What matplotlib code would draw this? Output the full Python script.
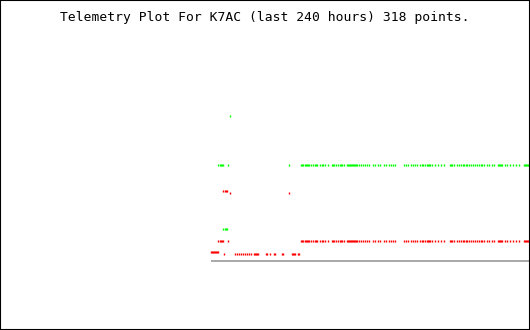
import numpy as np
import matplotlib
matplotlib.use("Agg")
import matplotlib.pyplot as plt
from matplotlib.patches import Rectangle

# times in hours (negative = hours ago)
t_main = [-172.5, -171.75, -171, -169.5, -168.75, -168, -167.25, -166.5, -165, -163.5,
          -162, -161.25, -160.5, -158.25, -156.75, -156, -154.5, -152.25, -149.25, -148.5,
          -147.75, -146.25, -144.75, -143.25, -142.5, -141.75, -140.25, -138, -137.25, -136.5,
          -135.75, -135, -134.25, -133.5, -132.75, -132, -131.25, -130.5, -129, -127.5,
          -126, -124.5, -123, -121.5, -118.5, -117, -114.75, -113.25, -110.25, -108.75,
          -106.5, -105, -103.5, -102, -95.25, -93.75, -92.25, -90, -88.5, -87,
          -85.5, -83.25, -81.75, -81, -79.5, -78, -77.25, -76.5, -75.75, -74.25,
          -72, -69.75, -67.5, -65.25, -60.75, -60, -59.25, -57.75, -55.5, -54,
          -52.5, -51, -50.25, -48.75, -48, -46.5, -45, -43.5, -42, -40.5,
          -39, -37.5, -36.75, -35.25, -33, -31.5, -29.25, -27.75, -24.75, -24,
          -23.25, -22.5, -21.75, -19.5, -18, -15.75, -13.5, -11.25, -9, -5.25,
          -4.5, -3.75, -3, -2.25]
t_early_a = [-234.75, -233.25, -232.5, -231.75, -231, -227.25, -181.5]
t_early_b = [-231, -229.5, -228.75, -228]
t_spike = [-225.75]
t_red_mid = [-225.75, -181.5]
t_red_low_first = [-240, -239.25, -238.5, -237.75, -237, -236.25, -235.5, -234.75]
t_red_low = [-230.25, -222, -220.5, -219, -217.5, -216, -214.5, -213, -211.5, -210,
             -207.75, -207, -206.25, -205.5, -204.75, -198.75, -198, -195.75, -192.75, -192,
             -186.75, -186, -179.25, -178.5, -177.75, -177, -174.75, -174]

# channel levels
green_hi = 9.6
green_lo = 3.2
green_spike = 14.5
red_hi = 7.0
red_mid = 6.8
red_main = 2.0
red_first = 0.9
red_low = 0.75

fig = plt.figure(figsize=(5.3, 3.3), dpi=100)
ax = fig.add_axes([211 / 530, 30 / 330, 318 / 530, 260 / 330])
ax.set_xlim(-240, -1.5)
ax.set_ylim(-3.9, 22.1)
ax.axis('off')

ax.axhline(0, color='#aaaaaa', lw=1.44, zorder=1)

mk = dict(marker='|', ls='none', markersize=1.6, mew=1.0, clip_on=False, zorder=3)

def row(times, level, color):
    ax.plot(times, [level] * len(times), color=color, **mk)

row(t_early_a[:6] + t_main, red_main, '#ff0000')
row(t_early_a + t_main, green_hi, '#00ff00')
row(t_early_b, green_lo, '#00ff00')
row(t_early_b, red_hi, '#ff0000')
row(t_spike, green_spike, '#00ff00')
row(t_red_mid, red_mid, '#ff0000')
row(t_red_low_first, red_first, '#ff0000')
row(t_red_low, red_low, '#ff0000')

fig.text(0.5, 1 - 17 / 330, 'Telemetry Plot For K7AC (last 240 hours) 318 points.',
         ha='center', va='center', family='DejaVu Sans Mono', fontsize=9.4)

fig.patches.append(Rectangle((0, 0), 1, 1, transform=fig.transFigure, fill=False,
                             edgecolor='black', lw=1.5))

fig.savefig('out.png', dpi=100)
